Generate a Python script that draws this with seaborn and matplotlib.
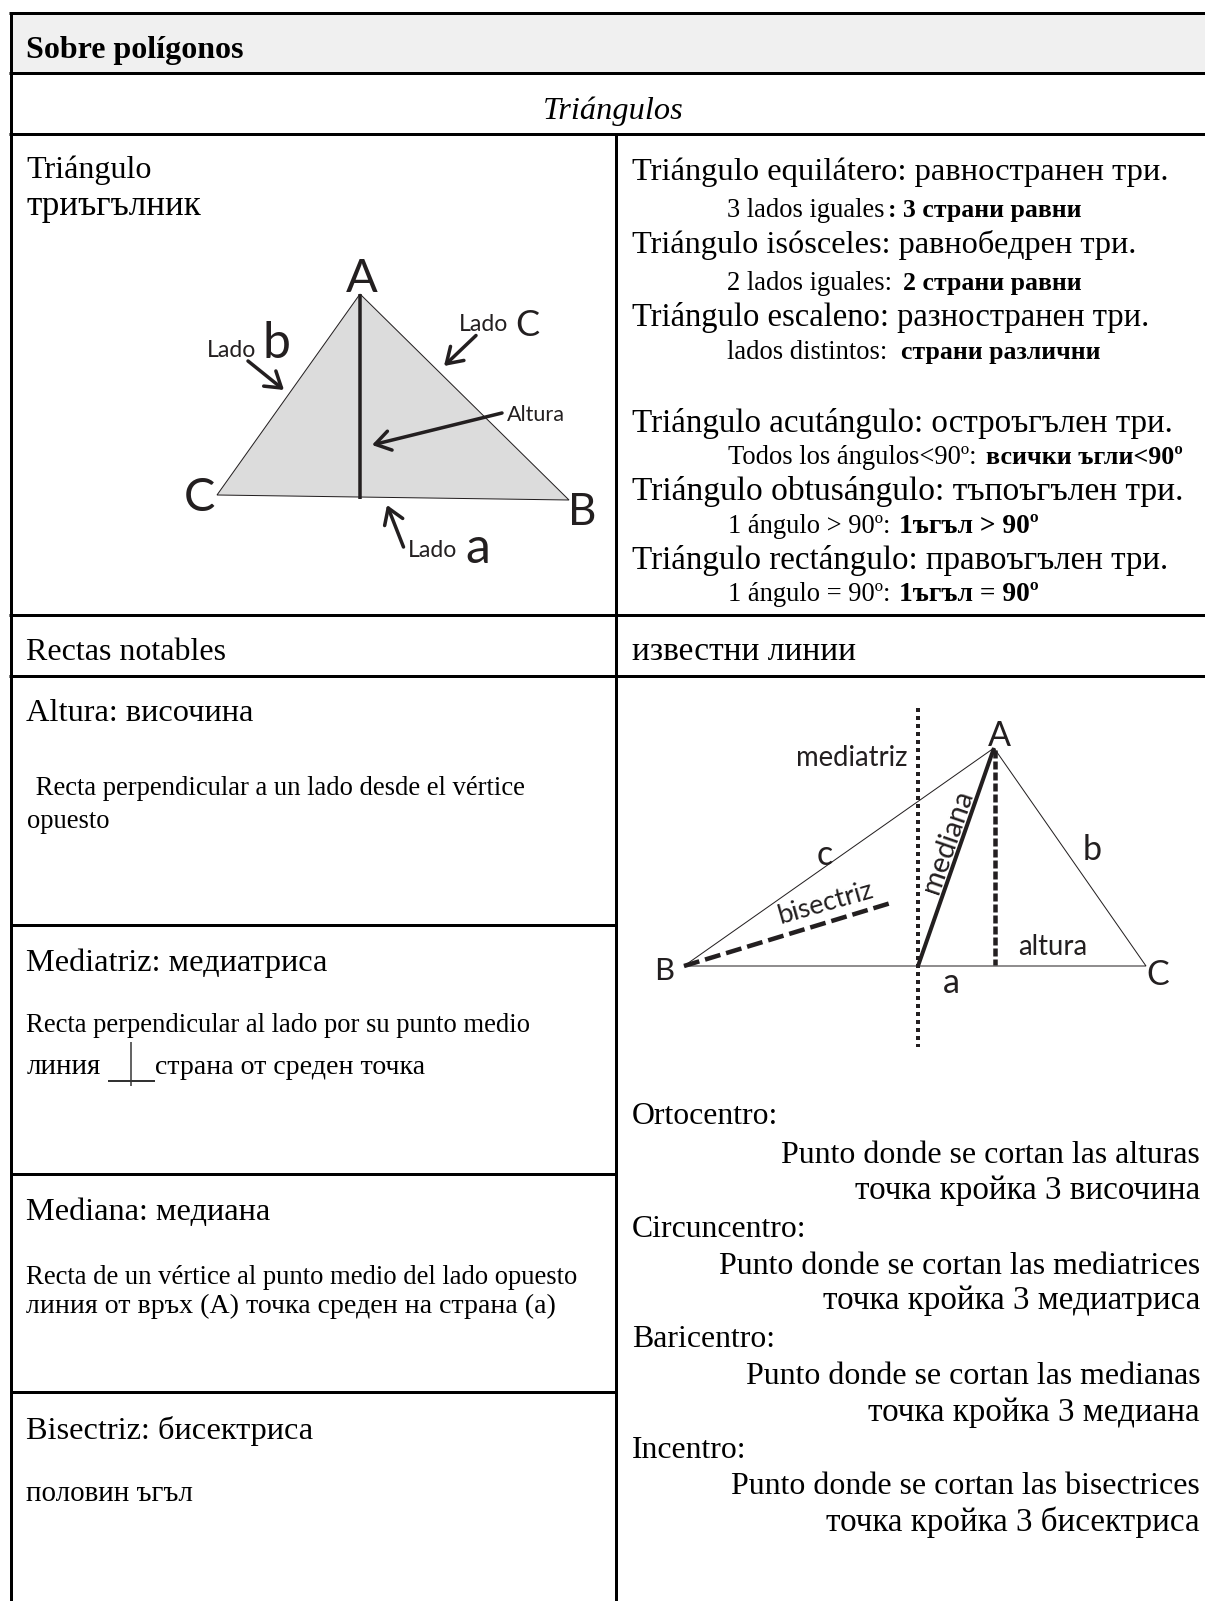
import matplotlib
matplotlib.use("Agg")
import matplotlib.pyplot as plt
import seaborn as sns

sns.set_theme(style="white")
plt.rcParams['font.family'] = ['Liberation Serif', 'DejaVu Sans']
plt.rcParams['lines.scale_dashes'] = False

W, H = 1205, 1601
fig = plt.figure(figsize=(W / 100, H / 100), dpi=100, facecolor="white")
ax = fig.add_axes([0, 0, 1, 1])
ax.set_facecolor("white")

BLACK = "#000000"
INK = "#231f20"
SANS = "Lato"
px = lambda p: p * 0.72


def seg(xs, ys, lw=3.0, color=BLACK, dash=None, cap="butt"):
    """One polyline through seaborn; lw and dash are given in image pixels."""
    art = sns.lineplot(x=xs, y=ys, estimator=None, sort=False, errorbar=None,
                       color=color, linewidth=px(lw), ax=ax)
    ln = art.lines[-1]
    if dash:
        ln.set_linestyle((0, (px(dash[0]), px(dash[1]))))
    ln.set_dash_capstyle(cap)
    ln.set_solid_capstyle(cap)
    ln.set_solid_joinstyle("miter")
    return ln


def arrow(start, end, lw=3.5, head=15):
    ax.annotate("", xy=end, xytext=start, annotation_clip=False,
                arrowprops=dict(arrowstyle=f"->,head_length={px(head)/px(lw)/2.2:.2f},head_width={px(head)/px(lw)/3.4:.2f}",
                                lw=px(lw), color=INK, shrinkA=0, shrinkB=0,
                                mutation_scale=px(lw) * 2.2))


def txt(x, y, s, size, **kw):
    kw.setdefault("va", "baseline")
    kw.setdefault("ha", "left")
    kw.setdefault("color", "#000000")
    ax.text(x, y, s, fontsize=px(size), **kw)


# ---------- table structure ----------
row_lines_full = [12.5, 72.5, 133.5, 614.5, 675.5]
row_lines_left = [924.5, 1173.5, 1391.5]
col_left, col_mid, col_right = 10.5, 615.5, 1205
header_fill = "#f0f0f0"

# ---------- text content ----------
title = "Sobre polígonos"
subtitle = "Triángulos"
tri_heads = ["Triángulo", "триъгълник"]
type_names = ["Triángulo equilátero: равностранен три.",
              "Triángulo isósceles: равнобедрен три.",
              "Triángulo escaleno: разностранен три.",
              "Triángulo acutángulo: остроъгълен три.",
              "Triángulo obtusángulo: тъпоъгълен три.",
              "Triángulo rectángulo: правоъгълен три."]
type_notes = ["3 lados iguales", "2 lados iguales:", "lados distintos:",
              "Todos los ángulos<90º:", "1 ángulo > 90º:", "1 ángulo = 90º:"]
type_notes_bg = [": 3 страни равни", "2 страни равни", "страни различни",
                 "всички ъгли<90º", "1ъгъл > 90º", "1ъгъл = 90º"]
row_heads = ["Rectas notables", "известни линии"]
lines_heads = ["Altura: височина", "Mediatriz: медиатриса", "Mediana: медиана", "Bisectriz: бисектриса"]
lines_body = [" Recta perpendicular a un lado desde el vértice", "opuesto",
              "Recta perpendicular al lado por su punto medio", "линия", "страна от среден точка",
              "Recta de un vértice al punto medio del lado opuesto",
              "линия от връх (А) точка среден на страна (а)", "половин ъгъл"]
centers = ["Ortocentro:", "Circuncentro:", "Baricentro:", "Incentro:"]
center_es = ["Punto donde se cortan las alturas", "Punto donde se cortan las mediatrices",
             "Punto donde se cortan las medianas", "Punto donde se cortan las bisectrices"]
center_bg = ["точка кройка 3 височина", "точка кройка 3 медиатриса",
             "точка кройка 3 медиана", "точка кройка 3 бисектриса"]

# ---------- diagram 1 geometry ----------
t1_x = [360, 217, 569, 360]
t1_y = [294, 495, 500, 294]
t1_alt_x = [359.5, 359.5]
t1_alt_y = [294, 499]
t1_arrows = [((248, 361), (284, 390)), ((476, 335.5), (444, 366)),
             ((502, 413), (372, 445)), ((403.5, 547), (387, 505))]

# ---------- diagram 2 geometry ----------
t2_x = [994, 684, 1146, 994]
t2_y = [748, 966, 966, 748]
mediatriz_x, mediatriz_y = [918, 918], [708, 1047]
altura_x, altura_y = [995, 995], [750, 965]
mediana_x, mediana_y = [918, 994], [966, 748]
bisectriz_x, bisectriz_y = [684, 894], [966, 902]
perp_x, perp_y = [108, 155], [1081, 1081]
perp2_x, perp2_y = [131, 131], [1042, 1086]

# ---------- draw: fills and rules ----------
ax.fill([col_left, col_right, col_right, col_left],
        [row_lines_full[0], row_lines_full[0], row_lines_full[1], row_lines_full[1]],
        color=header_fill, lw=0)
for y in row_lines_full:
    seg([col_left - 1.5, col_right], [y, y])
for y in row_lines_left:
    seg([col_left, col_mid], [y, y])
seg([col_left, col_left], [row_lines_full[0], H])
seg([col_mid, col_mid], [row_lines_full[2], H])

# ---------- draw: diagram 1 ----------
ax.fill(t1_x, t1_y, color="#dcdcdc", lw=0)
seg(t1_x, t1_y, lw=1.0, color=INK)
seg(t1_alt_x, t1_alt_y, lw=3.5, color=INK)
for s, e in t1_arrows:
    arrow(s, e)
txt(362, 292, "A", 47, ha="center", family=SANS, color=INK)
txt(199, 511, "C", 47, ha="center", family=SANS, color=INK)
txt(582, 525, "B", 44, ha="center", family=SANS, color=INK)
txt(207, 357, "Lado", 23, family=SANS, color=INK)
txt(263, 358, "b", 50, family=SANS, color=INK)
txt(459, 331, "Lado", 23, family=SANS, color=INK)
txt(515, 336, "C", 36, family=SANS, color=INK)
txt(507, 421, "Altura", 21.5, family=SANS, color=INK)
txt(408, 557, "Lado", 23, family=SANS, color=INK)
txt(465, 563, "a", 50, family=SANS, color=INK)

# ---------- draw: diagram 2 ----------
seg(t2_x, t2_y, lw=1.0, color=INK)
seg(mediatriz_x, mediatriz_y, lw=4, color=INK, dash=(4, 4))
seg(altura_x, altura_y, lw=4.5, color=INK, dash=(8, 3))
seg(mediana_x, mediana_y, lw=4, color=INK)
seg(bisectriz_x, bisectriz_y, lw=4.5, color=INK, dash=(16, 6))
txt(796, 766, "mediatriz", 27.5, family=SANS, color=INK)
txt(825, 865, "c", 34, ha="center", family=SANS, color=INK)
txt(1092, 860, "b", 34, ha="center", family=SANS, color=INK)
txt(1018, 955, "altura", 27.5, family=SANS, color=INK)
txt(951, 993, "a", 34, ha="center", family=SANS, color=INK)
txt(664, 980, "B", 31, ha="center", family=SANS, color=INK)
txt(1158, 985, "C", 34, ha="center", family=SANS, color=INK)
txt(999, 746, "A", 34, ha="center", family=SANS, color=INK)
ax.text(948, 842, "mediana", fontsize=px(29), family=SANS, color=INK, rotation=71,
        rotation_mode="anchor", ha="center", va="center")
ax.text(825, 903, "bisectriz", fontsize=px(27), family=SANS, color=INK, rotation=16,
        rotation_mode="anchor", ha="center", va="center")
seg(perp_x, perp_y, lw=2, color="#333333")
seg(perp2_x, perp2_y, lw=1.5, color="#333333")

# ---------- draw: table text ----------
txt(26.5, 58, title, 32, weight="bold")
txt(613.5, 119, subtitle, 32.4, ha="center", style="italic")
for s, y, z in zip(tri_heads, [178, 215], [32.1, 35]):
    txt(26.5, y, s, z)
name_size = [32.5, 32.4, 32.6, 33, 33.5, 33]
for s, y, z in zip(type_names, [180, 253, 326, 432, 500, 569], name_size):
    txt(632, y, s, z)
NOTE = 26.5
note_y = [217, 290, 359, 464, 533, 601]
note_x = [727, 727, 727, 728, 728, 728]
note_bx = [888, 903, 901, 986, 899, 899]
note_bold = [25.7, 25.7, 25.7, 26, 27.5, 27.5]
for s, b, y, x, bx, z in zip(type_notes, type_notes_bg, note_y, note_x, note_bx, note_bold):
    txt(x, y, s, NOTE)
    txt(bx, y, b, z, weight="bold")
txt(26.5, 660, row_heads[0], 32)
txt(632, 660, row_heads[1], 33.5)
for s, y in zip(lines_heads, [721, 971, 1220, 1439]):
    txt(26.5, y, s, 32.4)
body_x = [29, 26.5, 26.5, 26.5, 155, 26.5, 26.5, 26.5]
body_y = [795, 828, 1032, 1074, 1074, 1284, 1313, 1501]
body_size = [26.6, 26.6, 26.6, 29, 27.9, 26.6, 27.9, 29]
for s, x, y, z in zip(lines_body, body_x, body_y, body_size):
    txt(x, y, s, z)
for s, y in zip(centers, [1124, 1237, 1347, 1458]):
    txt(632, y, s, 31.8)
for s, y in zip(center_es, [1163, 1274, 1384, 1494]):
    txt(1200, y, s, 31.9, ha="right")
for s, y in zip(center_bg, [1199, 1309, 1421, 1531]):
    txt(1200, y, s, 33.2, ha="right")

ax.set_xlim(0, W)
ax.set_ylim(H, 0)
ax.axis("off")
fig.savefig("out.png", dpi=100, facecolor="white")
